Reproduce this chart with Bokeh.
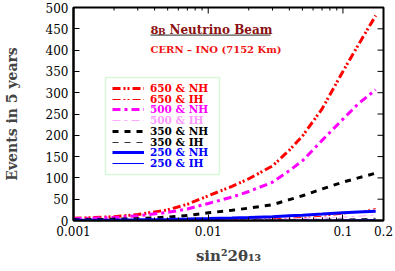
import math
from bokeh.plotting import figure
from bokeh.models import (FixedTicker, Legend, LegendItem, Label, BoxAnnotation, Range1d)
from bokeh.embed import file_html
from bokeh.resources import INLINE

# ---- data ----
sin2 = [0.001, 0.002, 0.003, 0.005, 0.007, 0.01, 0.015, 0.02, 0.03, 0.04, 0.05, 0.07, 0.1, 0.13, 0.175]
nh650 = [5, 9, 14, 25, 38, 58, 80, 98, 128, 165, 198, 262, 350, 412, 481]
ih650 = [0.3, 0.5, 0.7, 1.0, 1.3, 1.8, 2.5, 3.2, 4.3, 5.5, 7, 10, 15, 20, 28]
nh500 = [4, 7, 11, 19, 27, 40, 55, 68, 90, 117, 140, 188, 238, 274, 307]
ih500 = [0.2, 0.3, 0.5, 0.7, 0.9, 1.2, 1.7, 2.2, 3, 3.8, 4.6, 6.2, 8, 10, 13]
nh350 = [1.5, 3, 4, 8, 12, 18, 24, 29, 37, 49, 58, 74, 90, 100, 111]
ih350 = [0.1, 0.2, 0.3, 0.4, 0.5, 0.7, 0.9, 1.1, 1.5, 1.9, 2.2, 2.9, 3.6, 4.3, 5.2]
nh250 = [0.5, 1, 1.5, 2.5, 3.3, 4.5, 6, 7.2, 9, 11, 12.5, 15, 18, 20, 22]
ih250 = [0.05, 0.1, 0.15, 0.2, 0.25, 0.3, 0.4, 0.5, 0.6, 0.7, 0.8, 1, 1.3, 1.6, 2]

labels = ["650 & NH", "650 & IH", "500 & NH", "500 & IH",
          "350 & NH", "350 & IH", "250 & NH", "250 & IH"]
series = [nh650, ih650, nh500, ih500, nh350, ih350, nh250, ih250]
colors = ["#ff0000", "#ff0000", "#ff00ff", "#ffa8ff",
          "#000000", "#333333", "#0000ff", "#0000ff"]
text_colors = ["#ff0000", "#ff0000", "#ff00ff", "#ff99ff",
               "#000000", "#000000", "#0000ff", "#0000ff"]
widths = [3, 1, 3, 1, 3, 1, 3, 1]
dashes = ["8 3 2 2 2 3", "8 3 2 2 2 3", "8 4 3 4", "8 4 3 4",
          "6 6", "6 6", "solid", "solid"]

x_range = (0.001, 0.2)
y_range = (0, 500)
x_major = [0.001, 0.01, 0.1, 0.2]
x_minor = [0.002, 0.003, 0.004, 0.005, 0.006, 0.007, 0.008, 0.009,
           0.02, 0.03, 0.04, 0.05, 0.06, 0.07, 0.08, 0.09]
x_labels = {0.001: "0.001", 0.01: "0.01", 0.1: "0.1", 0.2: "0.2"}
y_ticks = list(range(0, 501, 50))

FONT = "DejaVu Serif"

p = figure(width=395, height=271, x_axis_type="log",
           x_range=Range1d(*x_range), y_range=Range1d(*y_range),
           output_backend="svg", toolbar_location=None,
           min_border_left=71, min_border_right=12, min_border_top=7, min_border_bottom=51)
p.xgrid.visible = False
p.ygrid.visible = False
p.outline_line_color = "black"
p.outline_line_width = 2
p.background_fill_color = "white"
p.border_fill_color = "white"

renderers = []
for ys, c, w, d in zip(series, colors, widths, dashes):
    r = p.line(sin2, ys, line_color=c, line_width=w, line_dash=d)
    renderers.append(r)

def style_axis(ax):
    ax.axis_line_width = 2
    ax.axis_line_color = "black"
    ax.major_tick_in = 6
    ax.major_tick_out = 0
    ax.minor_tick_in = 3
    ax.minor_tick_out = 0
    ax.major_tick_line_color = "black"
    ax.minor_tick_line_color = "black"
    ax.major_label_text_font = FONT
    ax.major_label_text_font_size = "12px"
    ax.major_label_text_color = "black"

xa = p.xaxis[0]
xa.ticker = FixedTicker(ticks=x_major, minor_ticks=x_minor)
xa.major_label_overrides = x_labels
style_axis(xa)
xa.major_label_standoff = 5
xa.axis_label = "sin\u00b22\u03b8\u2081\u2083"
xa.axis_label_text_font = FONT
xa.axis_label_text_font_style = "bold"
xa.axis_label_text_font_size = "15px"
xa.axis_label_standoff = 8

ya = p.yaxis[0]
ya.ticker = FixedTicker(ticks=y_ticks, minor_ticks=[])
style_axis(ya)
ya.major_label_standoff = 5
ya.axis_label = "Events in 5 years"
ya.axis_label_text_font = FONT
ya.axis_label_text_font_style = "bold"
ya.axis_label_text_font_size = "14px"
ya.axis_label_standoff = 23

# mirrored inward ticks on the top and right edges
p.ray(x=x_major, y=[y_range[1]] * len(x_major), length=6, length_units="screen",
      angle=-math.pi / 2, line_color="black", line_width=1)
p.ray(x=x_minor, y=[y_range[1]] * len(x_minor), length=3, length_units="screen",
      angle=-math.pi / 2, line_color="black", line_width=1)
p.ray(x=[x_range[1]] * len(y_ticks), y=y_ticks, length=6, length_units="screen",
      angle=math.pi, line_color="black", line_width=1)

# ---- legend (one entry per series, each with its own text colour) ----
FRAME_BOTTOM = 220  # canvas y of frame bottom
FRAME_LEFT = 71
row_y = [89, 99.5, 110, 120.8, 131.6, 142.5, 153.4, 164.2]
for lab, r, tc, yc in zip(labels, renderers, text_colors, row_y):
    lg = Legend(items=[LegendItem(label=lab, renderers=[r])],
                location=(110 - FRAME_LEFT, FRAME_BOTTOM - (yc + 5)),
                padding=0, margin=0, spacing=0, label_height=10, glyph_height=10,
                glyph_width=32, label_standoff=6,
                border_line_alpha=0, background_fill_alpha=0,
                label_text_font=FONT, label_text_font_style="bold",
                label_text_font_size="10.5px", label_text_color=tc)
    p.add_layout(lg, "center")

box = BoxAnnotation(left=103 - FRAME_LEFT, right=217 - FRAME_LEFT,
                    top=FRAME_BOTTOM - 77, bottom=FRAME_BOTTOM - 174,
                    left_units="screen", right_units="screen",
                    top_units="screen", bottom_units="screen",
                    fill_alpha=0, line_color="#7de87d", line_width=1.5)
p.add_layout(box)

# ---- title annotations ----
dark_red = "#8b1010"
p.add_layout(Label(x=148 - FRAME_LEFT, y=FRAME_BOTTOM - 29, x_units="screen", y_units="screen",
                   text="8", text_font=FONT, text_font_style="bold", text_font_size="11.5px",
                   text_color=dark_red, text_baseline="alphabetic"))
p.add_layout(Label(x=155.5 - FRAME_LEFT, y=FRAME_BOTTOM - 31, x_units="screen", y_units="screen",
                   text="B", text_font=FONT, text_font_style="bold", text_font_size="9px",
                   text_color=dark_red, text_baseline="alphabetic"))
p.add_layout(Label(x=167 - FRAME_LEFT, y=FRAME_BOTTOM - 29, x_units="screen", y_units="screen",
                   text="Neutrino Beam", text_font=FONT, text_font_style="bold",
                   text_font_size="12px", text_color=dark_red, text_baseline="alphabetic"))
p.add_layout(BoxAnnotation(left=148 - FRAME_LEFT, right=268 - FRAME_LEFT,
                           top=FRAME_BOTTOM - 34, bottom=FRAME_BOTTOM - 35.2,
                           left_units="screen", right_units="screen",
                           top_units="screen", bottom_units="screen",
                           fill_color="#555555", fill_alpha=1, line_alpha=0))
p.add_layout(Label(x=148 - FRAME_LEFT, y=FRAME_BOTTOM - 49, x_units="screen", y_units="screen",
                   text="CERN \u2013 INO (7152 Km)", text_font=FONT, text_font_style="bold",
                   text_font_size="10px", text_color="#ee1111", text_baseline="alphabetic"))

open("out.html", "w").write(file_html(p, INLINE))
